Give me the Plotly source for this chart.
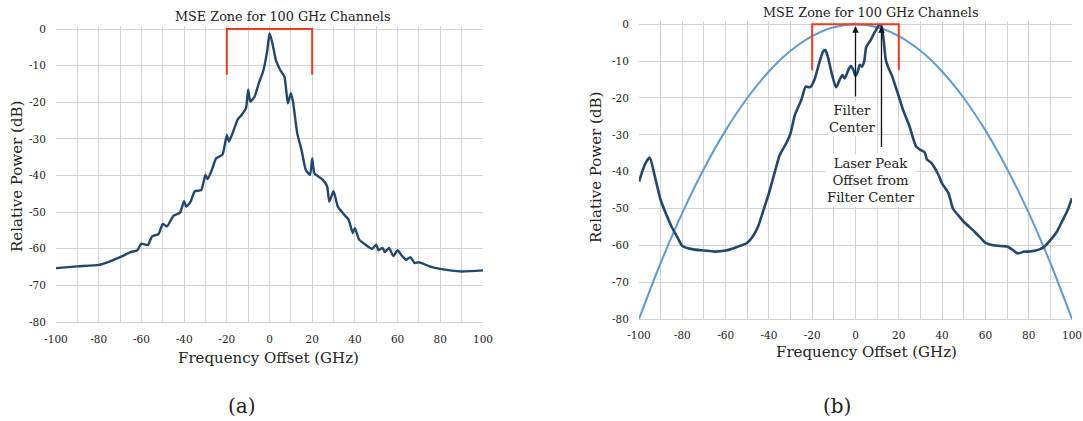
import plotly.graph_objects as go

# ---------------- data ----------------
# (a) laser spectrum, GHz vs dB
left_x = [-100, -90, -80, -75, -70, -65, -62, -60, -57, -55, -52, -50, -48, -45, -42, -40, -39, -37,
          -35, -32, -30, -29, -27, -25, -22, -20, -19, -17, -15, -13, -11, -10, -9, -7, -5, -3, -1,
          0, 1, 2, 3, 5, 7, 8.6, 10, 11, 13, 15, 17, 19, 20, 21, 23, 25, 27, 28, 30, 32, 35, 37, 39,
          40, 42, 45, 48, 50, 51, 53, 54, 56, 58, 60, 62, 64, 66, 68, 70, 75, 80, 90, 100]
left_y = [-65.3, -64.8, -64.4, -63.5, -62.3, -60.9, -60.5, -58.6, -59.0, -56.6, -56.0, -53.2, -53.9, -51.0,
          -50.2, -47.0, -48.5, -47.2, -44.3, -44.0, -39.8, -41.0, -38.5, -35.3, -34.3, -28.9, -30.7, -28.0,
          -24.8, -23.4, -21.6, -16.6, -19.8, -18.5, -14.8, -11.6, -5.7, -1.2, -3.0, -5.7, -8.5, -11.2, -13.0,
          -20.3, -17.5, -19.8, -28.5, -33.0, -38.5, -39.8, -35.3, -39.4, -40.3, -41.2, -43.0, -47.1, -44.3,
          -48.5, -50.7, -52.0, -55.7, -54.4, -57.5, -58.9, -60.0, -58.9, -60.4, -59.8, -60.9, -59.8, -62.0,
          -60.4, -61.9, -63.0, -62.3, -63.9, -63.7, -64.8, -65.5, -66.2, -65.9]

# (b) filtered laser spectrum
right_x = [-100, -97, -95, -93, -90, -87, -85, -82, -80, -75, -70, -65, -60, -55, -50, -47, -45, -42,
           -40, -37, -35, -32, -30, -28, -25, -23, -21, -19, -17, -15, -14, -13, -11, -9, -7, -6, -5,
           -3, -2, -1, 0, 1, 2, 3, 4, 5, 7, 9, 11, 12, 13, 14, 15, 17, 19, 20, 22, 25, 28, 30, 32, 33,
           35, 38, 40, 43, 45, 48, 50, 55, 58, 60, 63, 67, 70, 73, 75, 78, 80, 85, 87, 90, 93, 95, 98, 100]
right_y = [-42.7, -37.7, -36.2, -40.5, -47.7, -52.2, -54.9, -58.1, -60.2, -61.1, -61.4, -61.7, -61.4,
           -60.5, -59.3, -57.2, -54.9, -49.5, -45.9, -39.5, -35.5, -32.3, -29.6, -24.6, -20.5, -16.9,
           -17.1, -15.1, -11.0, -7.4, -7.0, -8.3, -13.3, -17.1, -14.7, -13.8, -14.7, -12.0, -11.3, -12.4,
           -14.0, -12.9, -11.0, -11.5, -10.1, -6.1, -4.3, -2.0, -0.2, -0.5, -4.3, -9.7, -11.5, -14.2,
           -17.8, -19.6, -23.3, -27.8, -33.2, -34.1, -34.8, -36.7, -37.6, -40.5, -43.2, -45.9, -50.0,
           -52.2, -53.6, -56.3, -58.1, -59.3, -59.9, -60.2, -60.3, -61.4, -62.2, -61.7, -61.7, -61.1,
           -60.5, -58.6, -56.3, -54.0, -50.4, -47.2]

# (b) filter response
filter_x = [-100, -90, -80, -70, -60, -50, -40, -30, -20, -10, 0, 10, 20, 30, 40, 50, 60, 70, 80, 90, 100]
filter_y = [-80.0, -64.8, -51.2, -39.2, -28.8, -20.0, -12.8, -7.2, -3.2, -0.8, 0.0, -0.8, -3.2, -7.2,
            -12.8, -20.0, -28.8, -39.2, -51.2, -64.8, -80.0]

# MSE zone bracket
mse_x = [-20, -20, 20, 20]
mse_y = [-12.5, 0, 0, -12.5]

# arrows (b)
filter_center_x = 0
laser_peak_x = 12

x_tick_vals = list(range(-100, 101, 10))
x_tick_text = [str(v) if v % 20 == 0 else "" for v in x_tick_vals]
y_tick_vals = list(range(-80, 1, 10))
y_tick_text = [str(v) for v in y_tick_vals]

# ---------------- style ----------------
FONT = "DejaVu Serif"
DARK = "#21476e"
LIGHT = "#5f9bd2"
RED = "#ee3a22"
GRID = "#d3d3d3"
W, H = 1083, 421

fig = go.Figure()
fig.add_trace(go.Scatter(x=left_x, y=left_y, mode="lines", line=dict(color=DARK, width=2.4, shape="spline", smoothing=0.5),
                         xaxis="x", yaxis="y", hoverinfo="skip"))
fig.add_trace(go.Scatter(x=mse_x, y=mse_y, mode="lines", line=dict(color=RED, width=2),
                         xaxis="x", yaxis="y", hoverinfo="skip"))
fig.add_trace(go.Scatter(x=filter_x, y=filter_y, mode="lines", line=dict(color=LIGHT, width=2, shape="spline"),
                         xaxis="x2", yaxis="y2", hoverinfo="skip"))
fig.add_trace(go.Scatter(x=right_x, y=right_y, mode="lines", line=dict(color=DARK, width=2.6, shape="spline", smoothing=0.6),
                         xaxis="x2", yaxis="y2", hoverinfo="skip"))
fig.add_trace(go.Scatter(x=mse_x, y=mse_y, mode="lines", line=dict(color=RED, width=2),
                         xaxis="x2", yaxis="y2", hoverinfo="skip"))

def px_to_paper_x(p):
    return p / W

def px_to_paper_y(p):
    return 1 - p / H

axis_common = dict(showgrid=True, gridcolor=GRID, gridwidth=1.4, zeroline=False, showline=False,
                   ticks="outside", tickcolor="rgba(0,0,0,0)", automargin=False,
                   tickfont=dict(family=FONT, size=10.5, color="#222"))

ypp_l = (322 - 29) / 80
ypp_r = (319 - 24.3) / 80
fig.update_layout(
    xaxis=dict(domain=[px_to_paper_x(56), px_to_paper_x(483)], range=[-100, 100], anchor="y",
               tickvals=x_tick_vals, ticktext=x_tick_text, ticklen=6, **axis_common),
    yaxis=dict(domain=[px_to_paper_y(322 + 0.4 * ypp_l), px_to_paper_y(29 - 0.8 * ypp_l)], range=[-80.4, 0.8],
               anchor="x", tickvals=y_tick_vals, ticktext=y_tick_text, ticklen=7, **axis_common),
    xaxis2=dict(domain=[px_to_paper_x(639), px_to_paper_x(1072)], range=[-100, 100], anchor="y2",
                tickvals=x_tick_vals, ticktext=x_tick_text, ticklen=5, **axis_common),
    yaxis2=dict(domain=[px_to_paper_y(319 + 0.4 * ypp_r), px_to_paper_y(24.3 - 0.8 * ypp_r)], range=[-80.4, 0.8],
                anchor="x2", tickvals=y_tick_vals, ticktext=y_tick_text, ticklen=7, **axis_common),
    width=W, height=H, autosize=False,
    margin=dict(l=0, r=0, t=0, b=0),
    paper_bgcolor="white", plot_bgcolor="white",
    showlegend=False,
    font=dict(family=FONT, color="#222"),
)

def text_ann(x, y, text, size, **kw):
    d = dict(x=px_to_paper_x(x), y=px_to_paper_y(y), xref="paper", yref="paper", text=text,
             showarrow=False, font=dict(family=FONT, size=size, color="#222"),
             xanchor="center", yanchor="middle")
    d.update(kw)
    fig.add_annotation(**d)

# titles
text_ann(282, 16, "MSE Zone for 100 GHz Channels", 12.8)
text_ann(870, 13, "MSE Zone for 100 GHz Channels", 12.8)
# axis titles
text_ann(268, 358, "Frequency Offset (GHz)", 15)
text_ann(866, 352, "Frequency Offset (GHz)", 15)
text_ann(17, 177, "Relative Power (dB)", 15, textangle=-90)
text_ann(596, 168, "Relative Power (dB)", 15, textangle=-90)
# panel labels
text_ann(242, 406, "(a)", 20)
text_ann(837, 406, "(b)", 20)

# callout labels in (b)
text_ann(852, 119, "Filter<br>Center", 13.2, bgcolor="white", borderpad=1)
text_ann(871, 180, "Laser Peak<br>Offset from<br>Filter Center", 13.2, bgcolor="white", borderpad=1)

# arrows in (b)
fig.add_annotation(x=filter_center_x, y=-0.5, ax=filter_center_x, ay=-20, xref="x2", yref="y2",
                   axref="x2", ayref="y2", showarrow=True, arrowhead=2, arrowsize=1, arrowwidth=1.3,
                   arrowcolor="#111", text="")
fig.add_annotation(x=laser_peak_x, y=-0.5, ax=laser_peak_x, ay=-33.7, xref="x2", yref="y2",
                   axref="x2", ayref="y2", showarrow=True, arrowhead=2, arrowsize=1, arrowwidth=1.3,
                   arrowcolor="#111", text="")

fig.write_html("out.html", config={"displayModeBar": False},
               post_script="document.body.style.margin='0';document.body.style.overflow='hidden';")
